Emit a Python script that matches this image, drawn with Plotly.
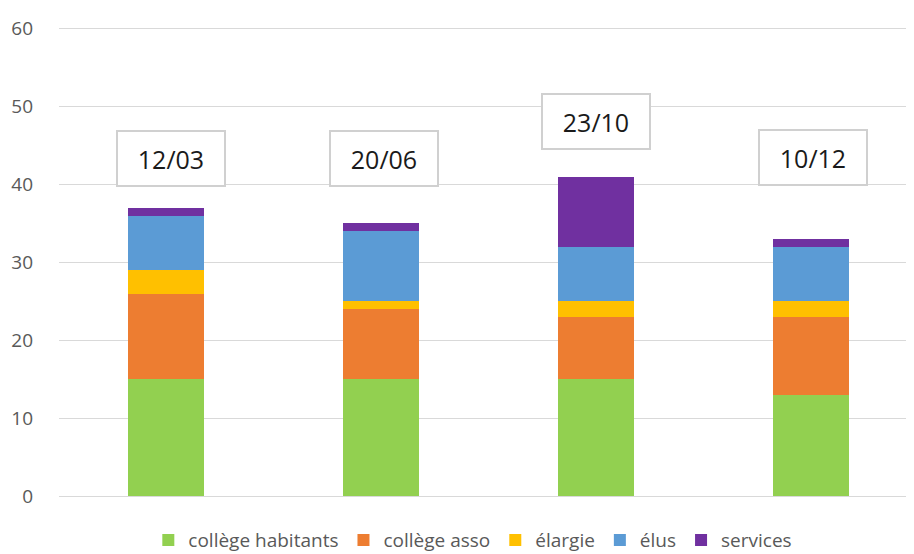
import plotly.graph_objects as go

categories = ["12/03", "20/06", "23/10", "10/12"]
series_names = ["collège habitants", "collège asso", "élargie", "élus", "services"]
college_habitants = [15, 15, 15, 13]
college_asso = [11, 9, 8, 10]
elargie = [3, 1, 2, 2]
elus = [7, 9, 7, 7]
services = [1, 1, 9, 1]
label_y = [43.3, 43.3, 48.1, 43.5]
label_xshift = [5, 3, 0, 2]

colors = ["#92d050", "#ed7d31", "#ffc000", "#5b9bd5", "#7030a0"]
values = [college_habitants, college_asso, elargie, elus, services]

fig = go.Figure()
for name, vals, col in zip(series_names, values, colors):
    fig.add_trace(go.Bar(x=categories, y=vals, name=name, marker=dict(color=col, line=dict(width=0))))

for cat, ly, xs in zip(categories, label_y, label_xshift):
    fig.add_annotation(x=cat, y=ly, xref="x", yref="y", text=cat, showarrow=False,
                       xshift=xs,
                       font=dict(family="Open Sans", size=25, color="#1a1a1a"),
                       bgcolor="white", bordercolor="#d0d0d0", borderwidth=2,
                       borderpad=0, width=106, height=53)

fig.update_layout(
    barmode="stack",
    width=906, height=546,
    margin=dict(l=51, r=0, t=13, b=58, autoexpand=False),
    paper_bgcolor="white", plot_bgcolor="white",
    bargap=0.646,
    font=dict(family="Open Sans", color="#595959"),
    showlegend=True,
    legend=dict(orientation="h", x=0.484, xanchor="center", y=-0.093, yanchor="middle",
                font=dict(size=19, color="#595959"), itemwidth=30, traceorder="normal"),
    xaxis=dict(range=[-0.5, 3.482], showticklabels=False, showgrid=False, showline=False,
               ticks="", zeroline=False),
    yaxis=dict(range=[0, 61], tickvals=[0, 10, 20, 30, 40, 50, 60], showgrid=True,
               gridcolor="#d9d9d9", gridwidth=1,
               zeroline=True, zerolinecolor="#d9d9d9", zerolinewidth=1, showline=False,
               tickfont=dict(size=19, color="#595959"), ticks="", ticklabelstandoff=25),
)

fig.write_html("out.html")
